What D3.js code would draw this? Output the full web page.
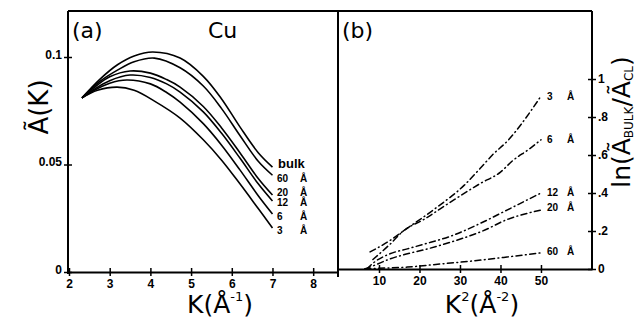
<!DOCTYPE html>
<html>
<head>
<meta charset="utf-8">
<script src="https://cdn.jsdelivr.net/npm/d3@7"></script>
<style>
  body { margin: 0; background: #fff; }
  svg { display: block; }
  .tk text { font-family: "Liberation Sans", Arial, sans-serif; font-weight: bold; font-size: 12px; fill: #000; }
  .big { font-family: "DejaVu Sans", sans-serif; font-weight: normal; fill: #000; }
  .lab { font-family: "Liberation Sans", Arial, sans-serif; font-weight: bold; fill: #000; }
</style>
</head>
<body>
<script>
// panel (a): A~(K) versus K, one curve per film thickness
var curvesA = ["bulk", "60", "20", "12", "6", "3"];
var bulkA = [[2.32,.081],[2.75,.0895],[3.2,.0965],[3.6,.1005],[4.06,.1023],[4.73,.0995],[5.3,.091],[5.75,.0805],[6.2,.0675],[6.65,.0555],[7,.0488]];
var a60 = [[2.32,.081],[2.75,.0885],[3.2,.094],[3.6,.0978],[4.1,.0995],[4.73,.095],[5.3,.0865],[5.75,.076],[6.2,.0635],[6.65,.0515],[7,.045]];
var a20 = [[2.32,.081],[2.6,.0855],[3.0,.0908],[3.5,.0935],[4.0,.0925],[4.4,.0895],[4.73,.086],[5.3,.077],[5.75,.067],[6.2,.0555],[6.65,.0435],[7,.0358]];
var a12 = [[2.32,.081],[2.6,.0848],[3.0,.089],[3.5,.0916],[4.0,.0905],[4.4,.0875],[4.73,.0837],[5.3,.0745],[5.75,.0645],[6.2,.053],[6.65,.041],[7,.033]];
var a6 = [[2.32,.081],[2.6,.0843],[3.0,.0878],[3.42,.0893],[4.0,.0875],[4.4,.0835],[4.73,.079],[5.3,.069],[5.75,.059],[6.2,.0475],[6.65,.0355],[7,.027]];
var a3 = [[2.32,.081],[2.7,.0845],[3.18,.086],[3.6,.0845],[4.1,.0795],[4.73,.0716],[5.3,.0615],[5.75,.052],[6.2,.041],[6.65,.0295],[7,.0205]];
var kTicks = [2,3,4,5,6,7,8];
var aTicks = [0, 0.05, 0.1];
var aTickLabels = ["0", "0.05", "0.1"];

// panel (b): ln(A bulk / A cl) versus K^2
var curvesB = ["3", "6", "12", "20", "60"];
var b3 = [[7.8,.09],[12.7,.15],[16,.2],[24,.32],[31,.44],[35,.53],[38,.6],[42,.68],[45.4,.77],[50,.91]];
var b6 = [[8.5,.05],[12.7,.13],[16,.2],[21,.26],[27.5,.35],[35,.45],[40,.51],[43,.57],[47,.63],[50,.68]];
var b12 = [[7,0],[8.5,.03],[12.7,.08],[17,.106],[21,.13],[28,.175],[35,.24],[41.6,.31],[50,.40]];
var b20 = [[6.5,0],[8.5,.016],[12.7,.053],[17,.08],[22,.106],[29,.15],[35.6,.2],[41.6,.26],[50,.31]];
var b60 = [[6.5,0],[9,.003],[17,.01],[25,.026],[33,.042],[41.6,.063],[50,.085]];
var k2Ticks = [10,20,30,40,50];
var lnTicks = [0, 0.2, 0.4, 0.6, 0.8, 1];
var lnTickLabels = ["0", ".2", ".4", ".6", ".8", "1"];

var W = 638, H = 322;
var svg = d3.select("body").append("svg").attr("width", W).attr("height", H);

var xa = d3.scaleLinear().domain([2, 8.61]).range([69, 338]);
var ya = d3.scaleLinear().domain([0, 0.1214]).range([272, 11]);
var xb = d3.scaleLinear().domain([0, 62.6]).range([338.5, 592]);
var yb = d3.scaleLinear().domain([0, 1.358]).range([269, 11]);

// frame
var frame = svg.append("g").attr("stroke", "#000").attr("stroke-width", 2).attr("fill", "none");
frame.append("line").attr("x1", 68).attr("y1", 11).attr("x2", 592).attr("y2", 11);
frame.append("line").attr("x1", 68).attr("y1", 11).attr("x2", 68).attr("y2", 274);
frame.append("line").attr("x1", 338).attr("y1", 11).attr("x2", 338).attr("y2", 277);
frame.append("line").attr("x1", 592).attr("y1", 11).attr("x2", 592).attr("y2", 270);

function styleAxis(g, dir) {
  g.select(".domain").attr("stroke", "#000").attr("stroke-width", 2);
  g.selectAll(".tick line").attr("stroke", "#000").attr("stroke-width", 1.5);
  if (dir === "x") g.selectAll(".tick line").attr("y1", -4).attr("y2", 4);
  else g.selectAll(".tick line").attr("x1", -4).attr("x2", 4);
}

var gxa = svg.append("g").attr("class", "tk").attr("transform", "translate(0,272)")
  .call(d3.axisBottom(xa).tickValues(kTicks).tickFormat(d3.format("d"))
    .tickSize(4).tickPadding(3).tickSizeOuter(0));
styleAxis(gxa, "x");
var gya = svg.append("g").attr("class", "tk").attr("transform", "translate(68,0)")
  .call(d3.axisLeft(ya).tickValues(aTicks).tickSize(4).tickPadding(2).tickSizeOuter(0)
    .tickFormat(function (d, i) { return aTickLabels[i]; }));
styleAxis(gya, "y");
gya.select(".domain").remove();
gya.selectAll(".tick text").attr("dy", "0.1em");

var gxb = svg.append("g").attr("class", "tk").attr("transform", "translate(0,269)")
  .call(d3.axisBottom(xb).tickValues(k2Ticks).tickFormat(d3.format("d"))
    .tickSize(4).tickPadding(3).tickSizeOuter(0));
styleAxis(gxb, "x");
var gyb = svg.append("g").attr("class", "tk").attr("transform", "translate(592,0)")
  .call(d3.axisRight(yb).tickValues(lnTicks).tickSize(4).tickPadding(2).tickSizeOuter(0)
    .tickFormat(function (d, i) { return lnTickLabels[i]; }));
styleAxis(gyb, "y");
gyb.select(".domain").remove();

// curves (a)
var lineA = d3.line().x(function (d) { return xa(d[0]); }).y(function (d) { return ya(d[1]); })
  .curve(d3.curveCatmullRom.alpha(0.5));
svg.selectAll("path.ca").data([bulkA, a60, a20, a12, a6, a3]).enter().append("path")
  .attr("class", "ca").attr("d", lineA)
  .attr("fill", "none").attr("stroke", "#000").attr("stroke-width", 1.6);

// curves (b), dash-dot
var lineB = d3.line().x(function (d) { return xb(d[0]); }).y(function (d) { return yb(d[1]); })
  .curve(d3.curveMonotoneX);
svg.selectAll("path.cb").data([b3, b6, b12, b20, b60]).enter().append("path")
  .attr("class", "cb").attr("d", lineB)
  .attr("fill", "none").attr("stroke", "#000").attr("stroke-width", 1.5)
  .attr("stroke-linecap", "round")
  .attr("stroke-dasharray", "6,3.5,0.8,3.5");

// labels (a)
var labYA = [163, 178, 192, 202, 216, 230];
svg.append("text").attr("class", "lab").attr("x", 278).attr("y", 168).attr("font-size", 13).text("bulk");
curvesA.slice(1).forEach(function (c, i) {
  var y = labYA[i + 1] + 4;
  svg.append("text").attr("class", "lab").attr("x", 277).attr("y", y).attr("font-size", 10).text(c);
  svg.append("text").attr("class", "lab").attr("x", 300).attr("y", y).attr("font-size", 10).text("Å");
});

// labels (b)
var labYB = [96, 139, 192, 207, 251];
curvesB.forEach(function (c, i) {
  var y = labYB[i] + 4;
  svg.append("text").attr("class", "lab").attr("x", 547).attr("y", y).attr("font-size", 10).text(c);
  svg.append("text").attr("class", "lab").attr("x", 567).attr("y", y).attr("font-size", 10).text("Å");
});

// titles
svg.append("text").attr("class", "big").attr("x", 72).attr("y", 38).attr("font-size", 22).text("(a)");
svg.append("text").attr("class", "big").attr("x", 208).attr("y", 38).attr("font-size", 22).text("Cu");
svg.append("text").attr("class", "big").attr("x", 342).attr("y", 38).attr("font-size", 22).text("(b)");

// axis titles
svg.append("text").attr("class", "big").attr("font-size", 26).attr("text-anchor", "middle")
  .attr("transform", "translate(48,107) rotate(-90)").text("Ã(K)");
var xt = svg.append("text").attr("class", "big").attr("font-size", 25).attr("text-anchor", "middle")
  .attr("x", 220).attr("y", 313);
xt.append("tspan").text("K(Å");
xt.append("tspan").attr("font-size", 13).attr("dy", -12).text("-1");
xt.append("tspan").attr("dy", 12).text(")");
var xt2 = svg.append("text").attr("class", "big").attr("font-size", 25).attr("text-anchor", "middle")
  .attr("x", 482).attr("y", 313);
xt2.append("tspan").text("K");
xt2.append("tspan").attr("font-size", 13).attr("dy", -12).text("2");
xt2.append("tspan").attr("dy", 12).text("(Å");
xt2.append("tspan").attr("font-size", 13).attr("dy", -12).text("-2");
xt2.append("tspan").attr("dy", 12).text(")");
var yt = svg.append("text").attr("class", "big").attr("font-size", 25).attr("text-anchor", "middle")
  .attr("transform", "translate(630,122) rotate(-90)");
yt.append("tspan").text("ln(Ã");
yt.append("tspan").attr("font-size", 12).attr("dy", 3).text("BULK");
yt.append("tspan").attr("dy", -3).text("/Ã");
yt.append("tspan").attr("font-size", 12).attr("dy", 3).text("CL");
yt.append("tspan").attr("dy", -3).text(")");
</script>
</body>
</html>
